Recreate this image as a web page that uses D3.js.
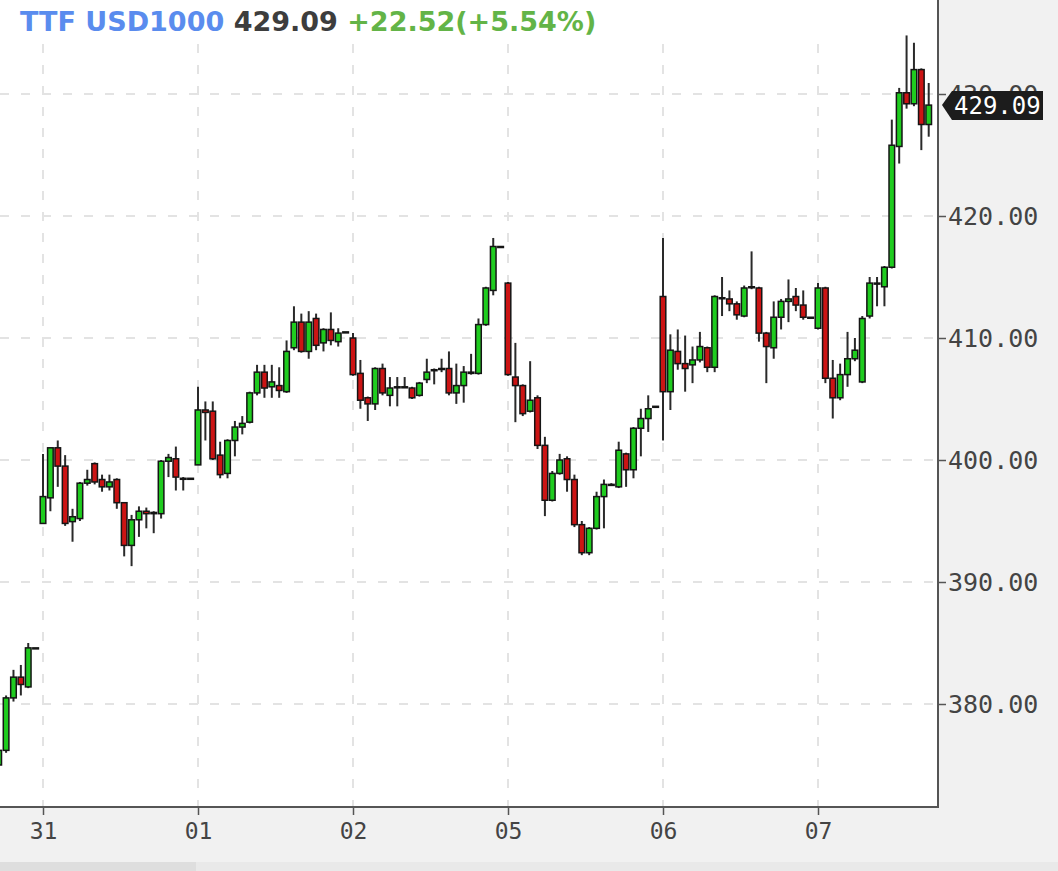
<!DOCTYPE html>
<html>
<head>
<meta charset="utf-8">
<script src="https://cdn.jsdelivr.net/npm/d3@7/dist/d3.min.js"></script>
<style>
  html, body { margin: 0; padding: 0; background: #f1f1f1; }
  svg { display: block; }
</style>
</head>
<body>
<svg id="chart"></svg>
<script>
/* data: half-hour candles, [open, high, low, close] */
var day30 = [
  [375.0, 376.4, 374.6, 376.2], [376.2, 380.7, 376.0, 380.5], [380.5, 382.8, 380.2, 382.2],
  [382.2, 383.2, 380.7, 381.6], [381.4, 385.0, 381.3, 384.6], [384.6, 384.6, 384.6, 384.6]
];
var day31 = [
  [394.8, 400.5, 394.8, 397.0], [396.9, 401.0, 395.8, 401.0], [401.0, 401.6, 397.8, 399.5],
  [399.5, 400.4, 394.6, 394.8], [394.95, 396.0, 393.3, 395.35], [395.2, 398.2, 395.0, 398.1],
  [398.1, 399.2, 397.9, 398.4], [399.7, 399.8, 398.0, 398.2], [398.4, 398.8, 397.4, 397.8],
  [397.8, 398.8, 397.5, 398.2], [398.4, 398.5, 396.0, 396.5], [396.5, 396.5, 392.1, 393.0],
  [393.0, 395.5, 391.3, 395.1], [395.1, 396.2, 393.7, 395.8], [395.8, 396.1, 394.4, 395.6],
  [395.7, 395.8, 394.0, 395.6], [395.6, 400.0, 395.2, 399.9], [399.9, 400.5, 398.6, 400.2],
  [400.1, 401.1, 397.5, 398.6], [398.5, 398.6, 397.5, 398.5], [398.5, 398.5, 398.5, 398.5]
];
var day01 = [
  [399.6, 406.0, 399.6, 404.1], [404.1, 404.8, 401.6, 403.9], [404.0, 404.8, 400.0, 400.1],
  [400.4, 401.5, 398.5, 398.8], [398.9, 401.7, 398.5, 401.6], [401.6, 403.2, 400.3, 402.7],
  [402.7, 403.6, 402.1, 403.0], [403.1, 405.6, 403.0, 405.5], [405.5, 407.8, 405.3, 407.2],
  [407.2, 407.8, 405.1, 405.9], [406.0, 407.8, 405.1, 406.4], [406.1, 407.6, 405.1, 405.7],
  [405.6, 409.8, 405.5, 408.9], [409.2, 412.6, 409.0, 411.3], [411.3, 412.0, 408.8, 408.9],
  [408.9, 412.2, 408.3, 411.3], [411.6, 412.0, 409.0, 409.4], [409.6, 410.8, 408.9, 410.7],
  [410.7, 412.1, 409.4, 409.8], [409.7, 410.8, 409.3, 410.4], [410.5, 410.5, 410.5, 410.5]
];
var day02 = [
  [410.0, 410.4, 406.9, 407.0], [407.1, 408.2, 404.2, 404.9], [405.1, 405.2, 403.2, 404.6],
  [404.6, 407.6, 404.1, 407.5], [407.5, 407.9, 405.3, 405.5], [405.3, 406.8, 404.4, 405.9],
  [406.0, 406.8, 404.4, 406.0], [406.0, 406.8, 405.9, 406.0], [405.9, 406.0, 405.0, 405.1],
  [405.3, 406.4, 405.2, 406.3], [406.6, 408.3, 406.3, 407.2], [407.4, 407.5, 406.2, 407.4],
  [407.5, 408.3, 407.2, 407.5], [407.5, 408.9, 405.3, 405.5], [405.5, 407.9, 404.6, 406.1],
  [406.1, 407.7, 404.7, 407.2], [407.2, 408.7, 407.0, 407.1], [407.1, 411.6, 407.0, 411.1],
  [411.1, 414.2, 411.0, 414.1], [413.9, 418.2, 413.5, 417.5], [417.5, 417.5, 417.5, 417.5]
];
var day05 = [
  [414.5, 414.6, 406.9, 407.0], [406.8, 409.6, 403.1, 406.1], [406.1, 406.2, 403.6, 403.8],
  [404.0, 408.1, 403.9, 404.9], [405.1, 405.3, 400.9, 401.2], [401.2, 401.9, 395.4, 396.7],
  [396.7, 399.1, 396.6, 398.9], [398.9, 400.5, 398.8, 400.0], [400.1, 400.3, 397.4, 398.4],
  [398.4, 398.8, 394.5, 394.7], [394.7, 395.0, 392.2, 392.4], [392.4, 394.5, 392.2, 394.4],
  [394.4, 397.4, 394.3, 397.0], [397.0, 398.4, 394.4, 398.0], [398.0, 398.1, 397.9, 398.0],
  [397.8, 401.5, 397.7, 400.8], [400.5, 400.6, 397.8, 399.2], [399.2, 402.7, 398.5, 402.6],
  [402.6, 404.2, 400.3, 403.4], [403.4, 405.3, 402.3, 404.2], [404.4, 404.4, 404.4, 404.4]
];
var day06 = [
  [413.4, 418.2, 401.6, 405.6], [405.6, 410.3, 404.1, 409.0], [408.9, 410.7, 407.4, 407.9],
  [407.9, 410.2, 405.6, 407.5], [407.8, 409.3, 406.3, 408.2], [408.2, 410.5, 408.0, 409.3],
  [409.2, 409.3, 407.2, 407.6], [407.6, 413.5, 407.2, 413.4], [413.3, 415.0, 411.8, 413.3],
  [413.2, 413.9, 412.2, 412.8], [412.8, 413.0, 411.5, 411.9], [411.8, 414.3, 411.7, 414.1],
  [414.2, 417.1, 414.0, 414.2], [414.1, 414.2, 409.7, 410.4], [410.4, 410.5, 406.3, 409.3],
  [409.2, 413.0, 408.3, 411.7], [411.7, 413.2, 410.7, 413.0], [413.0, 414.8, 411.3, 413.2],
  [413.4, 414.1, 412.2, 412.7], [412.7, 413.9, 411.5, 411.7], [411.7, 411.7, 411.7, 411.7]
];
var day07 = [
  [410.8, 414.5, 410.7, 414.1], [414.1, 414.2, 406.3, 406.7], [406.7, 408.2, 403.4, 405.1],
  [405.1, 407.9, 404.9, 407.0], [407.0, 410.5, 406.0, 408.3], [408.3, 410.0, 408.1, 409.0],
  [406.4, 411.8, 406.3, 411.6], [411.8, 415.0, 411.6, 414.5], [414.5, 415.0, 412.6, 414.5],
  [414.2, 415.9, 412.6, 415.8], [415.8, 427.9, 415.7, 425.8], [425.7, 430.5, 424.3, 430.1],
  [430.1, 434.8, 428.8, 429.2], [429.2, 434.2, 429.0, 432.0], [432.0, 432.1, 425.4, 427.5],
  [427.5, 430.9, 426.5, 429.09]
];

var dayLabels = ["31", "01", "02", "05", "06", "07"];
var yTicks = [380, 390, 400, 410, 420, 430];
var lastPrice = 429.09;
var title = "TTF USD1000";
var change = "+22.52(+5.54%)";

var perDay = 21;
var W = 1058, H = 871;
var plotRight = 938, plotBottom = 807;

/* flatten to one list of candles with a running slot index */
var candles = [];
day30.forEach(function(d, i){
    candles.push({i: i - day30.length, o: d[0], h: d[1], l: d[2], c: d[3]});
});
[day31, day01, day02, day05, day06, day07].forEach(function(day, k){
    day.forEach(function(d, i){
        candles.push({i: k * perDay + i, o: d[0], h: d[1], l: d[2], c: d[3]});
    });
});

var xScale = d3.scaleLinear().domain([0, 5 * perDay]).range([43, 818]);
var yScale = d3.scaleLinear().domain([380, 420]).range([704, 216]);
var dayTicks = dayLabels.map(function(d, i){ return i * perDay; });

var svg = d3.select("#chart").attr("width", W).attr("height", H);

svg.append("rect").attr("width", W).attr("height", H).attr("fill", "#f1f1f1");
svg.append("rect").attr("width", plotRight).attr("height", plotBottom).attr("fill", "#fff");
// scrollbar strip at the bottom
svg.append("rect").attr("x", 0).attr("y", 862).attr("width", W).attr("height", 9).attr("fill", "#e9e9e9");
svg.append("rect").attr("x", 0).attr("y", 862).attr("width", 196).attr("height", 9).attr("fill", "#dedede");

svg.append("clipPath").attr("id", "plot-clip")
   .append("rect").attr("width", plotRight).attr("height", plotBottom);

/* grid */
var grid = svg.append("g").attr("clip-path", "url(#plot-clip)")
    .attr("stroke", "#e3e3e3").attr("stroke-width", 2).attr("stroke-dasharray", "9,12");
grid.selectAll(".hg").data(yTicks).join("line")
    .attr("x1", 0).attr("x2", plotRight)
    .attr("y1", d => yScale(d)).attr("y2", d => yScale(d));
grid.selectAll(".vg").data(dayTicks).join("line")
    .attr("y1", 44).attr("y2", plotBottom)
    .attr("x1", d => xScale(d)).attr("x2", d => xScale(d));

/* candles */
var bodyW = 5.6;
var container = svg.append("g").attr("clip-path", "url(#plot-clip)");
var g = container.selectAll("g.candle").data(candles).join("g").attr("class", "candle");
g.append("line")
    .attr("x1", d => xScale(d.i)).attr("x2", d => xScale(d.i))
    .attr("y1", d => yScale(d.h)).attr("y2", d => yScale(d.l))
    .attr("stroke", "#2a2a2a").attr("stroke-width", 2);
g.append("rect")
    .attr("x", d => xScale(d.i) - bodyW / 2)
    .attr("width", bodyW)
    .attr("y", d => yScale(Math.max(d.o, d.c)))
    .attr("height", d => Math.max(1, Math.abs(yScale(d.o) - yScale(d.c))))
    .attr("fill", d => d.c >= d.o ? "#1fcc1f" : "#cc1414")
    .attr("stroke", "#151515").attr("stroke-width", 1.5);

/* frame */
svg.append("line").attr("x1", plotRight).attr("x2", plotRight).attr("y1", 0).attr("y2", plotBottom + 1)
   .attr("stroke", "#555").attr("stroke-width", 2);
svg.append("line").attr("x1", 0).attr("x2", plotRight + 1).attr("y1", plotBottom).attr("y2", plotBottom)
   .attr("stroke", "#555").attr("stroke-width", 2);

/* axes */
var yAxis = svg.append("g").attr("transform", `translate(${plotRight},0)`)
    .call(d3.axisRight(yScale).tickValues(yTicks).tickFormat(d3.format(".2f")).tickSize(8).tickPadding(2));
yAxis.select(".domain").remove();
yAxis.selectAll("line").attr("stroke", "#555").attr("stroke-width", 1.5);
yAxis.selectAll("text")
    .style("font-family", "DejaVu Sans Mono").style("font-size", "25px").attr("fill", "#444");

var xAxis = svg.append("g").attr("transform", `translate(0,${plotBottom})`)
    .call(d3.axisBottom(xScale).tickValues(dayTicks).tickFormat((d, i) => dayLabels[i]).tickSize(8).tickPadding(8));
xAxis.select(".domain").remove();
xAxis.selectAll("line").attr("stroke", "#555").attr("stroke-width", 1.5);
xAxis.selectAll("text")
    .style("font-family", "DejaVu Sans Mono").style("font-size", "23px").attr("fill", "#444");

/* last price tag, drawn over the 430.00 label as in the source */
var ty = yScale(lastPrice);
svg.append("path")
   .attr("d", `M942,${ty} L952,${ty - 14} L1043,${ty - 14} L1043,${ty + 15} L952,${ty + 15} Z`)
   .attr("fill", "#1c1c1c");
svg.append("text").attr("x", 954).attr("y", ty).attr("dy", "0.36em")
   .style("font-family", "DejaVu Sans Mono").style("font-size", "24px")
   .attr("fill", "#fff").text(d3.format(".2f")(lastPrice));

/* header */
var head = svg.append("text").attr("x", 20).attr("y", 31)
    .style("font-family", "DejaVu Sans").style("font-size", "27px").style("font-weight", "bold");
head.append("tspan").attr("fill", "#5a8cee").text(title + " ");
head.append("tspan").attr("fill", "#3d3d3d").text(d3.format(".2f")(lastPrice) + " ");
head.append("tspan").attr("fill", "#63b447").text(change);
</script>
</body>
</html>
